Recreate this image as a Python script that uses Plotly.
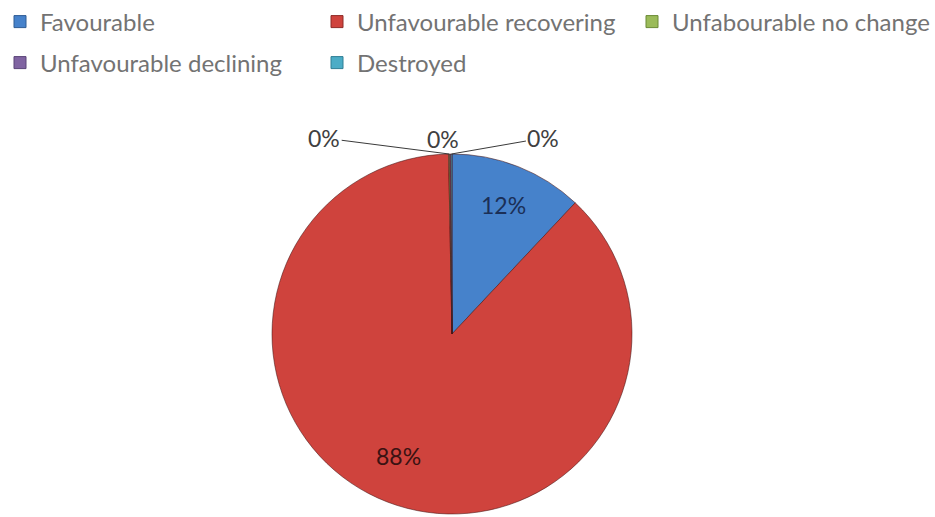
import math
import plotly.graph_objects as go

# Habitat condition shares (percent)
categories = [
    "Favourable",
    "Unfavourable recovering",
    "Unfabourable no change",
    "Unfavourable declining",
    "Destroyed",
]
values = [12.0, 87.7, 0.1, 0.1, 0.1]
colors = ["#4682CB", "#CF433D", "#9BBB59", "#8064A2", "#4BACC6"]
edge_colors = ["#2F5C94", "#8E2A26", "#6B8A36", "#5A4478", "#2F7E94"]
label_colors = ["#1B2F57", "#3A1212", "#404040", "#404040", "#404040"]

# legend rows and the space given to each entry (px)
row1 = categories[:3]
row2 = categories[3:]
entry_width = {
    "Favourable": 272,
    "Unfavourable recovering": 270,
    "Unfabourable no change": 256,
    "Unfavourable declining": 272,
    "Destroyed": 200,
}

W, H = 935, 517
FONT = "Lato, 'Open Sans', sans-serif"

# pie placement in paper fractions
dom_x = [272 / W, 632 / W]
dom_y = [3 / H, 363 / H]
cx = (dom_x[0] + dom_x[1]) / 2 * W
cy = (1 - (dom_y[0] + dom_y[1]) / 2) * H
R = (dom_x[1] - dom_x[0]) * W / 2

fig = go.Figure()

fig.add_trace(go.Pie(
    labels=categories,
    values=values,
    sort=False,
    direction="clockwise",
    rotation=0,
    marker=dict(colors=colors, line=dict(color="rgba(70,20,20,0.55)", width=1)),
    textinfo="none",
    hoverinfo="label+percent",
    showlegend=False,
    domain=dict(x=dom_x, y=dom_y),
))

# legend entries
for cat, col, ec in zip(categories, colors, edge_colors):
    fig.add_trace(go.Scatter(
        x=[None], y=[None], mode="markers", name=cat,
        marker=dict(symbol="square", size=12, color=col, line=dict(color=ec, width=1)),
        legend="legend" if cat in row1 else "legend2",
        legendwidth=entry_width[cat],
        showlegend=True, hoverinfo="skip",
    ))

# percentage labels from the values
total = sum(values)
start = 0.0
mids = []
for v in values:
    frac = v / total
    mids.append((start + frac / 2) * 2 * math.pi)
    start += frac

def to_paper(px, py):
    return px / W, 1 - py / H

annotations = []
inside_r = [0.77, 0.82]
for i in range(2):
    th = mids[i]
    px = cx + inside_r[i] * R * math.sin(th)
    py = cy - inside_r[i] * R * math.cos(th)
    x, y = to_paper(px, py)
    annotations.append(dict(
        x=x, y=y, xref="paper", yref="paper", showarrow=False,
        text=f"{round(values[i] / total * 100):.0f}%",
        font=dict(family=FONT, size=23, color=label_colors[i]),
    ))

# small slices: labels above the pie with leader lines
offsets = [(-125, -16), (-7, -15), (92, -16)]
for i, (ax, ay) in zip(range(2, 5), offsets):
    th = mids[i]
    px = cx + R * math.sin(th)
    py = cy - R * math.cos(th)
    x, y = to_paper(px, py)
    annotations.append(dict(
        x=x, y=y, xref="paper", yref="paper",
        showarrow=True, arrowhead=0, arrowwidth=1, arrowcolor="#3a3a3a",
        ax=ax, ay=ay, standoff=0,
        text=f"{round(values[i] / total * 100):.0f}%",
        font=dict(family=FONT, size=23, color=label_colors[i]),
    ))

legend_common = dict(
    orientation="h",
    x=0, xanchor="left",
    yanchor="middle",
    entrywidthmode="pixels",
    bgcolor="rgba(0,0,0,0)",
    font=dict(family=FONT, size=24, color="#737373"),
)

fig.update_layout(
    width=W, height=H,
    margin=dict(l=0, r=0, t=0, b=0, autoexpand=False),
    paper_bgcolor="white",
    plot_bgcolor="white",
    xaxis=dict(visible=False),
    yaxis=dict(visible=False),
    legend=dict(y=1 - 22 / H, **legend_common),
    legend2=dict(y=1 - 63 / H, **legend_common),
    annotations=annotations,
)

fig.write_html("out.html")
